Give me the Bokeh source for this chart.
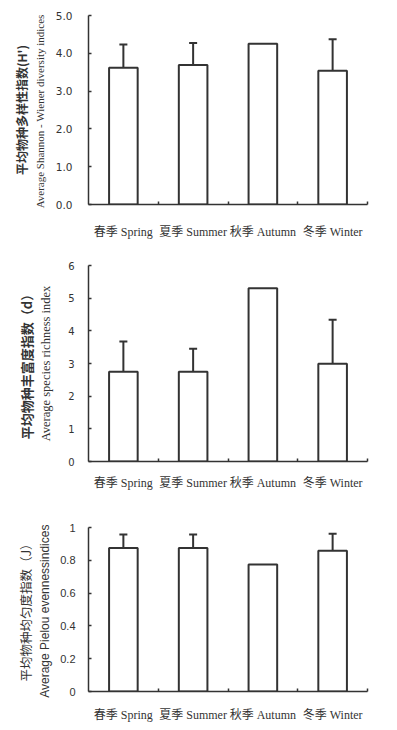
from bokeh.plotting import figure
from bokeh.models import (Range1d, FixedTicker, NumeralTickFormatter, Whisker,
                          TeeHead, ColumnDataSource, Title)
from bokeh.layouts import column
from bokeh.embed import file_html
from bokeh.resources import INLINE

# ---------------- data ----------------
categories = ["春季 Spring", "夏季 Summer", "秋季 Autumn", "冬季 Winter"]

h_mean = [3.62, 3.69, 4.25, 3.54]
h_err = [0.61, 0.58, 0.0, 0.83]
h_ticks = [0, 1, 2, 3, 4, 5]

d_mean = [2.75, 2.75, 5.30, 2.99]
d_err = [0.92, 0.70, 0.0, 1.35]
d_ticks = [0, 1, 2, 3, 4, 5, 6]

j_mean = [0.875, 0.875, 0.775, 0.858]
j_err = [0.082, 0.082, 0.0, 0.104]
j_ticks = [0, 0.2, 0.4, 0.6, 0.8, 1.0]

h_label_cn = "平均物种多样性指数(H')"
h_label_en = "Average  Shannon - Wiener diversity indices"
d_label_cn = "平均物种丰富度指数（d）"
d_label_en = "Average species richness index"
j_label_cn = "平均物种均匀度指数（J）"
j_label_en = "Average Pielou  evennessindices"

INK = "#333333"
CAT_FONT = "Liberation Serif, Noto Sans CJK SC"
CN_FONT = "Noto Sans CJK SC"


def panel(means, errs, ticks, fmt, lab_cn, lab_en, width, height, borders,
          tick_font, tick_size, tick_standoff, en_font, en_size, en_standoff,
          cn_size, cn_style, cn_standoff, cat_standoff):
    n = len(categories)
    xs = [i + 0.5 for i in range(n)]
    bl, br, bt, bb = borders
    p = figure(width=width, height=height, x_range=Range1d(0, n),
               y_range=Range1d(ticks[0], ticks[-1]), output_backend="svg",
               toolbar_location=None, min_border_left=bl, min_border_right=br,
               min_border_top=bt, min_border_bottom=bb)
    p.outline_line_color = None
    p.grid.visible = False
    p.background_fill_color = "white"
    p.border_fill_color = "white"

    p.vbar(x=xs, top=means, bottom=0, width=0.41, fill_color="white",
           line_color=INK, line_width=2)

    ex = [x for x, e in zip(xs, errs) if e > 0]
    lo = [m for m, e in zip(means, errs) if e > 0]
    up = [m + e for m, e in zip(means, errs) if e > 0]
    src = ColumnDataSource(dict(x=ex, lo=lo, up=up))
    w = Whisker(source=src, base="x", lower="lo", upper="up",
                dimension="height", line_color=INK, line_width=2,
                upper_head=TeeHead(size=8, line_color=INK, line_width=2),
                lower_head=None)
    p.add_layout(w)

    # x axis
    xa = p.xaxis[0]
    xa.ticker = FixedTicker(ticks=xs, minor_ticks=list(range(1, n + 1)))
    xa.major_label_overrides = {x: c for x, c in zip(xs, categories)}
    xa.major_tick_line_color = None
    xa.minor_tick_in = 3
    xa.minor_tick_out = 0
    xa.minor_tick_line_color = INK
    xa.minor_tick_line_width = 1.5
    xa.axis_line_color = INK
    xa.axis_line_width = 1.5
    xa.major_label_text_font = CAT_FONT
    xa.major_label_text_font_size = "12px"
    xa.major_label_text_color = INK
    xa.major_label_standoff = cat_standoff

    # y axis
    ya = p.yaxis[0]
    ya.ticker = FixedTicker(ticks=ticks)
    ya.formatter = NumeralTickFormatter(format=fmt)
    ya.major_tick_in = 3
    ya.major_tick_out = 0
    ya.minor_tick_line_color = None
    ya.major_tick_line_color = INK
    ya.major_tick_line_width = 1.5
    ya.axis_line_color = INK
    ya.axis_line_width = 1.5
    ya.major_label_text_font = tick_font
    ya.major_label_text_font_size = tick_size
    ya.major_label_text_color = INK
    ya.major_label_standoff = tick_standoff
    ya.axis_label = lab_en
    ya.axis_label_text_font = en_font
    ya.axis_label_text_font_size = en_size
    ya.axis_label_text_font_style = "normal"
    ya.axis_label_text_color = INK
    ya.axis_label_standoff = en_standoff

    t = Title(text=lab_cn, align="center", text_font=CN_FONT,
              text_font_size=cn_size, text_font_style=cn_style,
              text_color=INK, standoff=cn_standoff)
    p.add_layout(t, "left")
    return p


p1 = panel(h_mean, h_err, h_ticks, "0.0", h_label_cn, h_label_en,
           397, 250, (87, 30, 15, 46),
           "DejaVu Sans", "10.5px", 16, "Liberation Serif", "11px", 7,
           "12px", "bold", 2, 14)
p2 = panel(d_mean, d_err, d_ticks, "0", d_label_cn, d_label_en,
           397, 250, (87, 9, 15, 39),
           "DejaVu Sans", "10px", 14, "Liberation Serif", "12.5px", 12,
           "13px", "bold", 1, 8)
p3 = panel(j_mean, j_err, j_ticks, "0.[0]", j_label_cn, j_label_en,
           397, 230, (88, 17, 27, 39),
           "Liberation Sans", "11px", 13, "Liberation Sans", "12px", 5,
           "12.5px", "normal", 1, 10)

layout = column(p1, p2, p3, spacing=0)
open("out.html", "w").write(file_html(layout, INLINE))
